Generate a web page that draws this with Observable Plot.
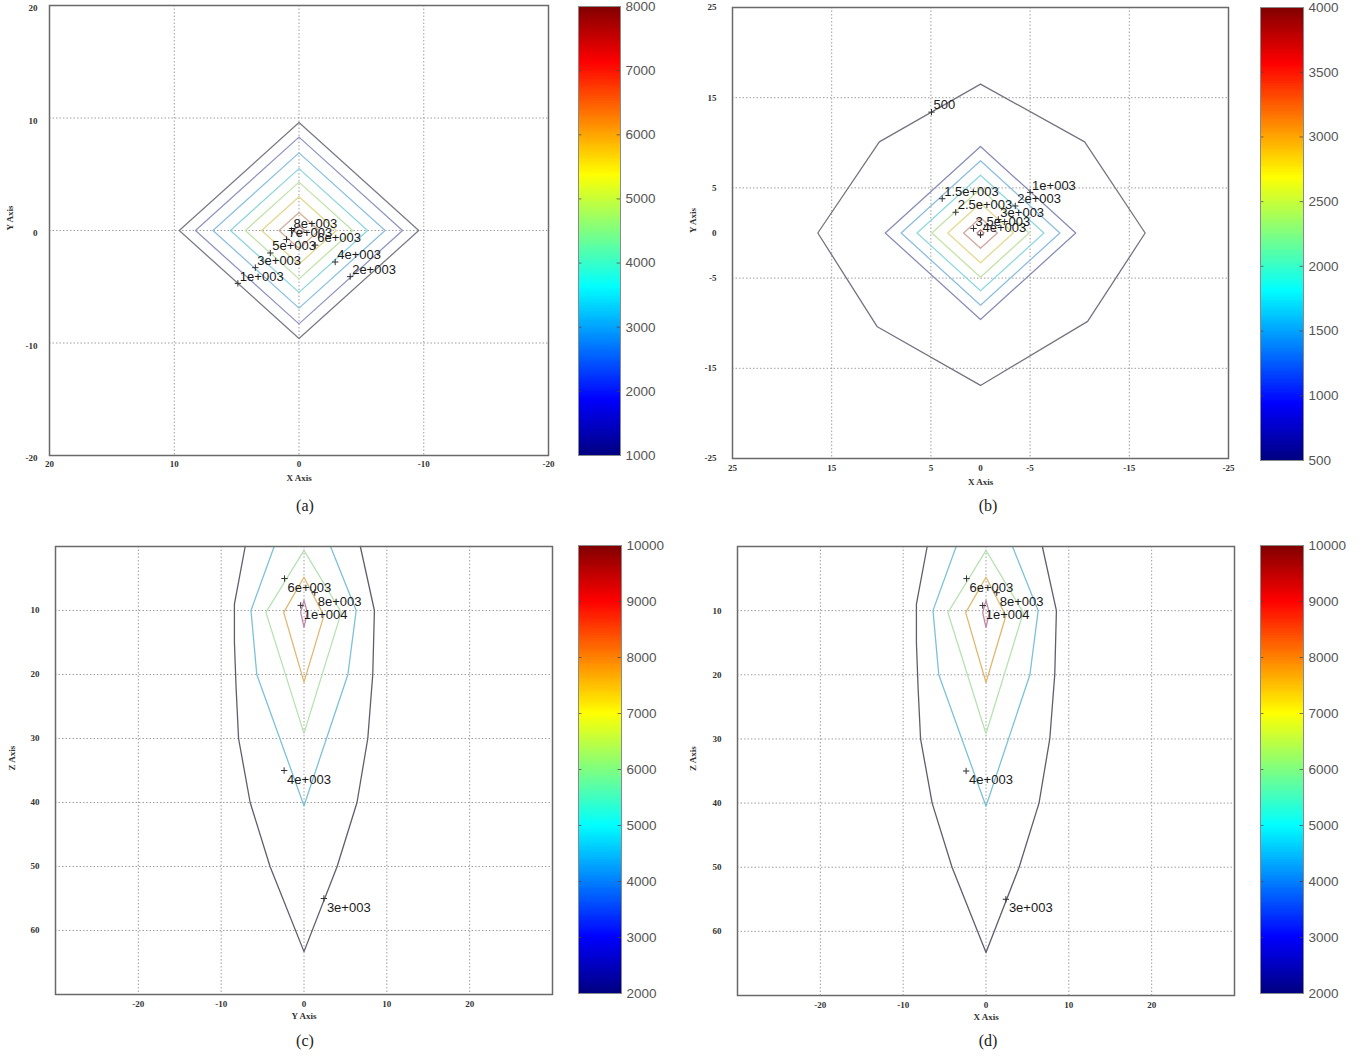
<!DOCTYPE html>
<html>
<head>
<meta charset="utf-8">
<script src="https://cdn.jsdelivr.net/npm/d3@7"></script>
<script src="https://cdn.jsdelivr.net/npm/@observablehq/plot@0.6"></script>
<style>
  body { margin: 0; background: #fff; }
  #page { position: relative; width: 1370px; height: 1059px; background: #fff; overflow: hidden; }
  .slot { position: absolute; }
  .slot svg { max-width: none !important; }
  .cap { position: absolute; font-family: "Liberation Serif", "DejaVu Serif", serif; font-size: 16px; color: #222; transform: translateX(-50%); white-space: nowrap; }
</style>
</head>
<body>
<div id="page"></div>
<script>
// ---------------- Panel (a): X-Y plane ----------------
const levelsA = [1000, 2000, 3000, 4000, 5000, 6000, 7000, 8000];
const radiusA = [9.6, 8.3, 6.9, 5.5, 4.3, 3.0, 1.6, 0.45];
const labelsA = ["1e+003", "2e+003", "3e+003", "4e+003", "5e+003", "6e+003", "7e+003", "8e+003"];
const markXA = [4.9, -4.1, 3.5, -2.9, 2.3, -1.3, 1.0, 0.6];
const markYA = [-4.7, -4.1, -3.3, -2.8, -2.0, -1.3, -0.8, 0.0];
const ticksA = [20, 10, 0, -10, -20];
const gridA = [10, 0, -10];
const barTicksA = [1000, 2000, 3000, 4000, 5000, 6000, 7000, 8000];

// ---------------- Panel (b): X-Y plane ----------------
const outerLevelB = 500;
const outerXB = [0, -10.5, -16.6, -10.8, 0, 10.4, 16.4, 10.2, 0];
const outerYB = [16.5, 10.1, 0, -9.8, -16.9, -10.4, 0, 10.1, 16.5];
const levelsB = [1000, 1500, 2000, 2500, 3000, 3500, 4000];
const radiusB = [9.6, 8.0, 6.4, 4.9, 3.3, 1.7, 0.35];
const labelsB = ["500", "1e+003", "1.5e+003", "2e+003", "2.5e+003", "3e+003", "3.5e+003", "4e+003"];
const markXB = [4.94, -5.0, 3.86, -3.5, 2.5, -1.8, 0.7, 0.0];
const markYB = [13.4, 4.5, 3.8, 3.0, 2.3, 1.5, 0.5, -0.2];
const ticksB = [25, 15, 5, 0, -5, -15, -25];
const gridB = [15, 5, -5, -15];
const barTicksB = [500, 1000, 1500, 2000, 2500, 3000, 3500, 4000];

// ---------------- Panels (c) and (d): vertical planes ----------------
const levelsC = [3000, 4000, 6000, 8000, 10000];
const c3000X = [-7.1, -8.4, -8.4, -8.2, -7.9, -6.5, -4.1, 0, 4.0, 6.4, 7.7, 8.3, 8.5, 6.8];
const c3000Z = [0, 9, 15, 22, 30, 40, 50, 63.3, 50, 40, 30, 20, 10, 0];
const c4000X = [-3.6, -6.4, -5.7, 0, 5.3, 6.3, 3.2];
const c4000Z = [0, 10, 20, 40.5, 20, 10, 0];
const c6000X = [0, -4.6, 0, 4.5, 0];
const c6000Z = [0.6, 10.3, 29.2, 10.3, 0.6];
const c8000X = [0, -2.45, 0, 2.4, 0];
const c8000Z = [4.8, 10.3, 21.2, 10.8, 4.8];
const c10000X = [0, -0.4, 0, 0.4, 0];
const c10000Z = [8.4, 10.3, 12.6, 10.3, 8.4];
const labelsC = ["3e+003", "4e+003", "6e+003", "8e+003", "1e+004"];
const markXC = [2.4, -2.4, -2.35, 1.3, -0.4];
const markZC = [55, 35, 5.0, 7.2, 9.2];
const ticksCX = [-20, -10, 0, 10, 20];
const ticksCZ = [10, 20, 30, 40, 50, 60];
const barTicksC = [2000, 3000, 4000, 5000, 6000, 7000, 8000, 9000, 10000];

// ---------------- styles (not data) ----------------
const jet = ["#000080", "#0000ff", "#00ffff", "#ffff00", "#ff0000", "#800000"];
const jetStops = [0, 0.125, 0.375, 0.625, 0.875, 1];
const strokeA = ["#7c7c88", "#9295bf", "#8cc0e0", "#8ed6de", "#c2e2aa", "#e4d890", "#d4b09a", "#b48a8a"];
const strokeB = ["#747480", "#8a8db4", "#8cbedd", "#90d8e0", "#c4e2a8", "#e6da90", "#d0a8a0", "#b08080"];
const strokeC = ["#5f5f6c", "#7cc2d6", "#b8e2b2", "#e0b870", "#c088a8"];
const serif = "Liberation Serif, DejaVu Serif, serif";
const sans = "Liberation Sans, Arial, sans-serif";

// ---------------- table builders ----------------
function diamondRows(levels, radii) {
  return levels.flatMap((level, i) => {
    const r = radii[i];
    return [[0, r], [r, 0], [0, -r], [-r, 0], [0, r]].map(([x, y]) => ({level, x, y}));
  });
}
function pathRows(level, xs, ys) {
  return xs.map((x, i) => ({level, x, y: ys[i]}));
}
function labelRows(labels, xs, ys) {
  return labels.map((label, i) => ({label, x: xs[i], y: ys[i]}));
}

const rowsA = diamondRows(levelsA, radiusA);
const rowsB = [...pathRows(outerLevelB, outerXB, outerYB), ...diamondRows(levelsB, radiusB)];
const rowsC = [
  ...pathRows(3000, c3000X, c3000Z),
  ...pathRows(4000, c4000X, c4000Z),
  ...pathRows(6000, c6000X, c6000Z),
  ...pathRows(8000, c8000X, c8000Z),
  ...pathRows(10000, c10000X, c10000Z)
];

// ---------------- panel renderer ----------------
function panel(o) {
  const fmt = d => String(d);
  const tickStyle = {fontSize: 9, fontWeight: "bold", fontFamily: serif, fill: "#333"};
  return Plot.plot({
    width: o.width, height: o.height,
    marginLeft: o.ml, marginRight: o.mr, marginTop: o.mt, marginBottom: o.mb,
    style: {background: "transparent", fontFamily: serif, fontSize: "9px"},
    x: {domain: o.xDomain},
    y: {domain: o.yDomain, reverse: !!o.yReverse},
    color: {type: "ordinal", domain: o.levels, range: o.colors},
    marks: [
      Plot.ruleX(o.xGrid, {stroke: "#a0a0a0", strokeDasharray: "1.5,2"}),
      Plot.ruleY(o.yGrid, {stroke: "#a0a0a0", strokeDasharray: "1.5,2"}),
      Plot.line(o.rows, {x: "x", y: "y", z: "level", stroke: "level", strokeWidth: 1.3}),
      Plot.frame({stroke: "#6a6a6a", strokeWidth: 1.5}),
      Plot.axisX({ticks: o.xTicks, tickSize: 0, tickPadding: o.xPad, tickFormat: fmt, label: null, ...tickStyle}),
      Plot.axisY({ticks: o.yTicks, tickSize: 0, tickPadding: o.yPad, tickFormat: fmt, label: null, dy: o.yTickDy || 0, ...tickStyle}),
      Plot.text([o.xLabel], {text: d => d, frameAnchor: "bottom", dy: o.xLabelDy, ...tickStyle}),
      Plot.text([o.yLabel], {text: d => d, frameAnchor: "left", dx: o.yLabelDx, rotate: -90, ...tickStyle}),
      Plot.dot(o.labels, {x: "x", y: "y", symbol: "plus", r: 2.2, stroke: "#333", strokeWidth: 1}),
      Plot.text(o.labels, {x: "x", y: "y", text: "label", textAnchor: "start", dx: o.labelDx, dy: o.labelDy,
        fontSize: 13, fontFamily: sans, fill: "#1a1a1a"})
    ]
  });
}

// ---------------- colorbar renderer ----------------
function colorbar(o) {
  const [min, max] = [o.ticks[0], o.ticks[o.ticks.length - 1]];
  const span = max - min;
  const n = 240, step = span / n;
  const steps = d3.range(n).map(i => min + i * step);
  return Plot.plot({
    width: o.width, height: o.height,
    marginLeft: o.ml, marginRight: o.mr, marginTop: o.mt, marginBottom: o.mb,
    style: {background: "transparent"},
    x: {domain: [0, 1], axis: null},
    y: {domain: [min, max]},
    color: {type: "linear", domain: jetStops.map(t => min + t * span), range: jet},
    marks: [
      Plot.rect(steps, {x1: () => 0, x2: () => 1, y1: d => d, y2: d => Math.min(max, d + step * 1.6),
        fill: d => d + step / 2, shapeRendering: "crispEdges"}),
      Plot.ruleY(o.ticks.slice(1, -1), {y: d => d, x1: () => 0, x2: () => 0.08, stroke: "#444", strokeOpacity: 0.7}),
      Plot.ruleY(o.ticks.slice(1, -1), {y: d => d, x1: () => 0.92, x2: () => 1, stroke: "#444", strokeOpacity: 0.7}),
      Plot.frame({stroke: "#8a8a8a"}),
      Plot.axisY({anchor: "right", ticks: o.ticks, tickSize: 0, tickPadding: 5, tickFormat: d => String(d),
        label: null, fontSize: 13.5, fontFamily: sans, fill: "#555"})
    ]
  });
}

// ---------------- layout ----------------
const page = document.getElementById("page");
function place(node, left, top, w, h) {
  const div = document.createElement("div");
  div.className = "slot";
  div.style.left = left + "px";
  div.style.top = top + "px";
  div.style.width = w + "px";
  div.style.height = h + "px";
  div.appendChild(node);
  page.appendChild(div);
}
function caption(text, cx, top) {
  const d = document.createElement("div");
  d.className = "cap";
  d.style.left = cx + "px";
  d.style.top = top + "px";
  d.textContent = text;
  page.appendChild(d);
}

// (a)
place(panel({
  width: 560, height: 495, ml: 49, mr: 12, mt: 5, mb: 40,
  xDomain: [20, -20], yDomain: [-20, 20],
  xTicks: ticksA, yTicks: ticksA, xGrid: gridA, yGrid: gridA,
  xPad: 5, yPad: 12, yTickDy: 3,
  levels: levelsA, colors: strokeA, rows: rowsA,
  labels: labelRows(labelsA, markXA, markYA), labelDx: 2, labelDy: -7,
  xLabel: "X Axis", yLabel: "Y Axis", xLabelDy: 25, yLabelDx: -39
}), 0, 0, 560, 495);
place(colorbar({width: 120, height: 470, ml: 18, mr: 60, mt: 6, mb: 15, ticks: barTicksA}), 560, 0, 120, 470);

// (b)
place(panel({
  width: 560, height: 495, ml: 52, mr: 12, mt: 7, mb: 37,
  xDomain: [25, -25], yDomain: [-25, 25],
  xTicks: ticksB, yTicks: ticksB, xGrid: gridB, yGrid: gridB,
  xPad: 6, yPad: 16, yTickDy: 0,
  levels: [outerLevelB, ...levelsB], colors: strokeB, rows: rowsB,
  labels: labelRows(labelsB, markXB, markYB), labelDx: 2, labelDy: -7,
  xLabel: "X Axis", yLabel: "Y Axis", xLabelDy: 26, yLabelDx: -39
}), 680, 0, 560, 495);
place(colorbar({width: 130, height: 475, ml: 20, mr: 67, mt: 7, mb: 15, ticks: barTicksB}), 1240, 0, 130, 475);

// (c)
place(panel({
  width: 560, height: 500, ml: 55, mr: 8, mt: 16, mb: 36,
  xDomain: [-30, 30], yDomain: [0, 70], yReverse: true,
  xTicks: ticksCX, yTicks: ticksCZ, xGrid: ticksCX, yGrid: ticksCZ,
  xPad: 6, yPad: 16, yTickDy: 0,
  levels: levelsC, colors: strokeC, rows: rowsC,
  labels: labelRows(labelsC, markXC, markZC), labelDx: 3, labelDy: 9,
  xLabel: "Y Axis", yLabel: "Z Axis", xLabelDy: 24, yLabelDx: -43
}), 0, 530, 560, 500);
place(colorbar({width: 120, height: 480, ml: 18, mr: 59, mt: 15, mb: 17, ticks: barTicksC}), 560, 530, 120, 480);

// (d)
place(panel({
  width: 560, height: 500, ml: 57, mr: 6, mt: 16, mb: 35,
  xDomain: [-30, 30], yDomain: [0, 70], yReverse: true,
  xTicks: ticksCX, yTicks: ticksCZ, xGrid: ticksCX, yGrid: ticksCZ,
  xPad: 6, yPad: 16, yTickDy: 0,
  levels: levelsC, colors: strokeC, rows: rowsC,
  labels: labelRows(labelsC, markXC, markZC), labelDx: 3, labelDy: 9,
  xLabel: "X Axis", yLabel: "Z Axis", xLabelDy: 24, yLabelDx: -44
}), 680, 530, 560, 500);
place(colorbar({width: 130, height: 480, ml: 20, mr: 67, mt: 15, mb: 17, ticks: barTicksC}), 1240, 530, 130, 480);

caption("(a)", 305, 497);
caption("(b)", 988, 497);
caption("(c)", 305, 1032);
caption("(d)", 988, 1032);
</script>
</body>
</html>
